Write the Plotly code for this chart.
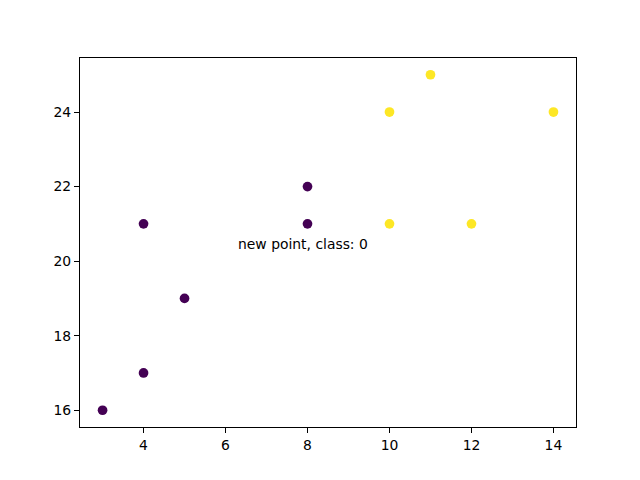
import plotly.graph_objects as go

x = [4, 5, 10, 4, 3, 11, 14, 8, 10, 12]
y = [21, 19, 24, 17, 16, 25, 24, 22, 21, 21]
classes = [0, 0, 1, 0, 0, 1, 1, 0, 1, 1]
new_x = 8
new_y = 21
prediction = 0

all_x = x + [new_x]
all_y = y + [new_y]
all_c = classes + [prediction]
colors = ["#440154" if c == 0 else "#fde725" for c in all_c]

fig = go.Figure()
fig.add_trace(go.Scatter(x=all_x, y=all_y, mode="markers",
                         marker=dict(color=colors, size=9.7, line=dict(width=0)),
                         showlegend=False))
fig.add_annotation(x=new_x - 1.7, y=new_y - 0.7, text=f"new point, class: {prediction}",
                   showarrow=False, xanchor="left", yanchor="bottom",
                   font=dict(family="DejaVu Sans", size=13.9, color="black"),
                   xshift=-2, yshift=-4)

axis_common = dict(showline=True, linecolor="black", linewidth=1, mirror=True,
                   ticks="outside", ticklen=5, tickcolor="black", showgrid=False,
                   zeroline=False, tickfont=dict(family="DejaVu Sans", size=13.9, color="black"))
fig.update_xaxes(range=[2.45, 14.55], tickvals=[4, 6, 8, 10, 12, 14], **axis_common)
fig.update_yaxes(range=[15.55, 25.45], tickvals=[16, 18, 20, 22, 24], **axis_common)
fig.update_layout(width=640, height=480, margin=dict(l=72, r=72, t=50, b=61),
                  plot_bgcolor="white", paper_bgcolor="white")
fig.write_html("out.html")
